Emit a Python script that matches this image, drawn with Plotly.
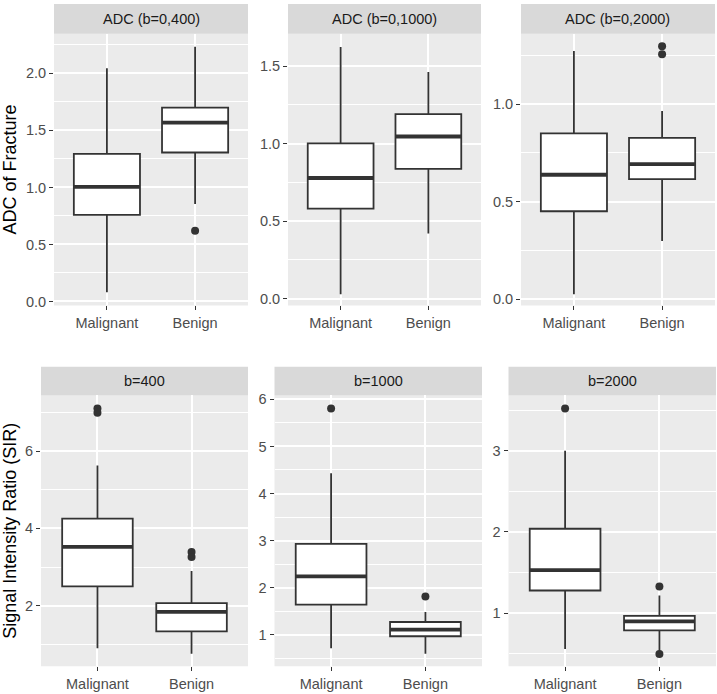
import plotly.graph_objects as go

W, H = 717, 694

categories = ["Malignant", "Benign"]
panel_titles = ["ADC (b=0,400)", "ADC (b=0,1000)", "ADC (b=0,2000)",
                "b=400", "b=1000", "b=2000"]

# box statistics per panel: [Malignant, Benign]
lower_whisker = [[0.08, 0.855], [0.028, 0.42], [0.026, 0.298],
                 [0.90, 0.76], [0.71, 0.595], [0.56, 0.53]]
q1_vals = [[0.76, 1.306], [0.58, 0.837], [0.451, 0.616],
           [2.50, 1.34], [1.64, 0.967], [1.28, 0.79]]
median_vals = [[1.005, 1.568], [0.778, 1.046], [0.638, 0.692],
               [3.52, 1.84], [2.24, 1.11], [1.53, 0.90]]
q3_vals = [[1.294, 1.70], [1.002, 1.191], [0.85, 0.827],
           [4.25, 2.07], [2.93, 1.27], [2.04, 0.967]]
upper_whisker = [[2.045, 2.233], [1.624, 1.463], [1.272, 0.964],
                 [5.625, 2.90], [4.43, 1.48], [3.0, 1.22]]
outliers = [[[], [0.62]], [[], []], [[], [1.296, 1.255]],
            [[7.098, 6.99], [3.39, 3.26]], [[5.805], [1.81]], [[3.52], [1.33, 0.50]]]

y_ranges = [[-0.035, 2.348], [-0.045, 1.71], [-0.032, 1.361],
            [0.435, 7.437], [0.329, 6.084], [0.348, 3.68]]
y_dticks = [0.5, 0.5, 0.5, 2, 1, 1]
y_formats = [".1f", ".1f", ".1f", "d", "d", "d"]
y_titles = ["ADC of Fracture", "Signal Intensity Ratio (SIR)"]

# layout geometry in pixels
x_px = [[54, 248], [288, 481], [521, 715], [41, 248], [274.5, 482], [508.5, 716]]
row_plot_px = [[30, 305], [396, 670]]
row_strip_px = [[0, 30], [367, 396]]

BOX_W = 0.75
LINE_C = "#333333"
FONT = "Liberation Sans, Arial, sans-serif"

def px_x(p):
    return p / W

def px_y(p):
    return 1 - p / H

fig = go.Figure()
layout = dict(width=W, height=H, margin=dict(l=0, r=0, t=0, b=0),
              paper_bgcolor="white", plot_bgcolor="#EBEBEB", showlegend=False,
              font=dict(family=FONT))
shapes, annotations = [], []

for i in range(6):
    row = i // 3
    ax = "" if i == 0 else str(i + 1)
    xref, yref = "x" + ax, "y" + ax
    pos = [1, 2]
    for j in range(2):
        fig.add_trace(go.Box(
            x=[pos[j]], q1=[q1_vals[i][j]], median=[median_vals[i][j]], q3=[q3_vals[i][j]],
            lowerfence=[lower_whisker[i][j]], upperfence=[upper_whisker[i][j]],
            orientation="v", width=BOX_W, fillcolor="white",
            line=dict(color=LINE_C, width=1.8), whiskerwidth=0, boxpoints=False,
            hoverinfo="skip", xaxis=xref, yaxis=yref))
        fig.add_trace(go.Scatter(
            x=[pos[j] - BOX_W / 2, pos[j] + BOX_W / 2],
            y=[median_vals[i][j], median_vals[i][j]], mode="lines",
            line=dict(color=LINE_C, width=3.8), hoverinfo="skip",
            xaxis=xref, yaxis=yref))
        if outliers[i][j]:
            fig.add_trace(go.Scatter(
                x=[pos[j]] * len(outliers[i][j]), y=outliers[i][j], mode="markers",
                marker=dict(color=LINE_C, size=8), hoverinfo="skip",
                xaxis=xref, yaxis=yref))
    xd = [px_x(x_px[i][0]), px_x(x_px[i][1])]
    yd = [px_y(row_plot_px[row][1]), px_y(row_plot_px[row][0])]
    layout["xaxis" + ax] = dict(
        domain=xd, range=[0.4, 2.6], tickvals=pos, ticktext=categories,
        showgrid=True, gridcolor="white", gridwidth=1.8, zeroline=False,
        ticks="outside", ticklen=4, tickwidth=1.2, tickcolor=LINE_C,
        tickfont=dict(size=14.5, color="#4D4D4D", family=FONT),
        anchor=yref, fixedrange=True)
    layout["yaxis" + ax] = dict(
        domain=yd, range=y_ranges[i], dtick=y_dticks[i], tick0=0,
        tickformat=y_formats[i], showgrid=True, gridcolor="white", gridwidth=1.8,
        zeroline=False, ticks="outside", ticklen=4, tickwidth=1.2, tickcolor=LINE_C,
        tickfont=dict(size=14.5, color="#4D4D4D", family=FONT),
        minor=dict(dtick=y_dticks[i] / 2, tick0=0, showgrid=True, gridcolor="white",
                   gridwidth=0.9, ticks=""),
        anchor=xref, fixedrange=True)
    # facet strip
    sy = [px_y(row_strip_px[row][1]), px_y(row_strip_px[row][0])]
    shapes.append(dict(type="rect", xref="paper", yref="paper", x0=xd[0], x1=xd[1],
                       y0=sy[0], y1=sy[1], fillcolor="#D9D9D9", line=dict(width=0),
                       layer="below"))
    annotations.append(dict(xref="paper", yref="paper", x=(xd[0] + xd[1]) / 2,
                            y=(sy[0] + sy[1]) / 2, text=panel_titles[i], showarrow=False,
                            xanchor="center", yanchor="middle",
                            font=dict(size=14.5, color="#1A1A1A", family=FONT)))

for r in range(2):
    yc = px_y((row_plot_px[r][0] + row_plot_px[r][1]) / 2)
    annotations.append(dict(xref="paper", yref="paper", x=px_x(10), y=yc,
                            text=y_titles[r], textangle=-90, showarrow=False,
                            xanchor="center", yanchor="middle",
                            font=dict(size=18, color="black", family=FONT)))

layout["shapes"] = shapes
layout["annotations"] = annotations
fig.update_layout(**layout)
fig.write_html("out.html", config={"displayModeBar": False},
               post_script="document.body.style.margin='0px';document.body.style.overflow='hidden';")
